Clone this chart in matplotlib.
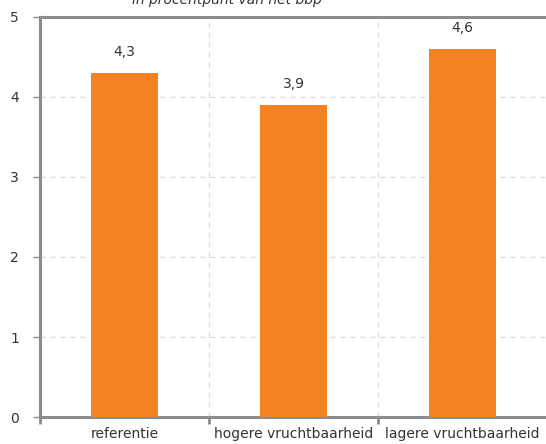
import matplotlib
matplotlib.use("Agg")
import matplotlib.pyplot as plt
import numpy as np

# data
categories = ["referentie", "hogere vruchtbaarheid", "lagere vruchtbaarheid"]
values = [4.3, 3.9, 4.6]
labels = ["4,3", "3,9", "4,6"]
yticks = [0, 1, 2, 3, 4, 5]

bar_color = "#F58220"
spine_color = "#8C8C8C"
text_color = "#333333"

fig = plt.figure(figsize=(5.46, 4.44), dpi=100)
ax = fig.add_axes([40 / 546, 27 / 444, 507 / 546, 400 / 444])

x = np.arange(len(categories))
ax.bar(x, values, width=0.4, color=bar_color, zorder=3)

for xi, v, lab in zip(x, values, labels):
    ax.annotate(lab, (xi, v), xytext=(0, 10), textcoords="offset points",
                ha="center", va="bottom", fontsize=10, color=text_color)

ax.set_xlim(-0.5, 2.5)
ax.set_ylim(0, 5)
ax.set_yticks(yticks)
ax.set_yticklabels([str(t) for t in yticks], fontsize=10, color=text_color)

# category labels in the middle, tick marks on the boundaries
ax.set_xticks(x)
ax.set_xticklabels(categories, fontsize=10, color=text_color)
ax.tick_params(axis="x", length=0, pad=7)
ax.set_xticks([-0.5, 0.5, 1.5, 2.5], minor=True)
ax.tick_params(axis="x", which="minor", length=5, width=2, color=spine_color, direction="out")
ax.tick_params(axis="y", length=5, width=1, color=spine_color, pad=10)

# grid
for yv in yticks[1:-1]:
    ax.axhline(yv, color="#D9D9D9", lw=0.9, ls=(0, (4, 4)), zorder=1)
for xv in [0.5, 1.5]:
    ax.axvline(xv, color="#D9D9D9", lw=0.9, ls=(0, (4, 4)), zorder=1)

for side in ["left", "bottom", "top"]:
    ax.spines[side].set_color(spine_color)
    ax.spines[side].set_linewidth(2.2)
ax.spines["right"].set_visible(False)

fig.text(227 / 546, 1.0, "in procentpunt van het bbp", ha="center", va="center",
         fontsize=10, style="italic", color=text_color)

fig.savefig("out.png", dpi=100)
